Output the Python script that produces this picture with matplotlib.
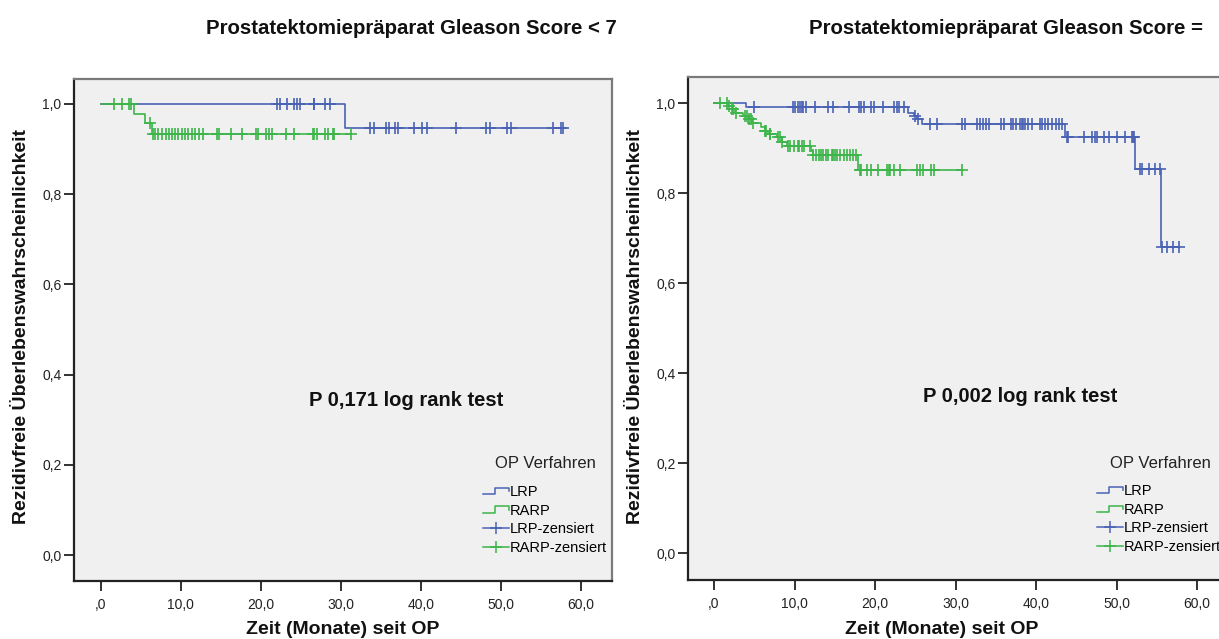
import numpy as np
import matplotlib.pyplot as plt
from matplotlib.lines import Line2D
from matplotlib.legend_handler import HandlerBase
from matplotlib.ticker import FixedLocator, FuncFormatter

plt.rcParams['font.family'] = ['Liberation Sans', 'DejaVu Sans']

W, H = 1219, 639
col_lrp = '#4A62B4'
col_rarp = '#3DB54A'

# --- Gleason Score < 7 ---
lrp1_t = [0, 30.5]
lrp1_s = [1.0, 0.947]
lrp1_cens = [22.0, 22.4, 23.3, 24.2, 24.5, 24.9, 26.6, 26.7, 28.0, 28.7,
             33.7, 34.1, 35.6, 36.0, 36.8, 37.1, 39.1, 40.2, 40.8, 44.4,
             48.2, 48.6, 50.8, 51.3, 56.5, 57.5, 57.8]
rarp1_t = [0, 4.2, 5.5, 6.4]
rarp1_s = [1.0, 0.977, 0.957, 0.933]
rarp1_cens = [1.6, 2.7, 3.5, 3.8, 6.2, 6.5, 6.8, 7.2, 7.6, 8.1, 8.5, 8.9, 9.3,
              9.7, 10.1, 10.5, 10.9, 11.4, 11.8, 12.3, 12.8, 14.5, 14.8, 16.3,
              17.7, 19.4, 19.6, 20.7, 21.0, 21.4, 23.1, 24.2, 26.5, 26.7, 27.0,
              28.0, 28.4, 29.0, 29.2, 31.3]

# --- Gleason Score = 7 ---
lrp2_t = [0, 4.0, 24.1, 24.8, 25.2, 25.8, 43.6, 52.3, 55.5]
lrp2_s = [1.0, 0.992, 0.978, 0.971, 0.964, 0.953, 0.924, 0.853, 0.681]
lrp2_cens = [5.0, 9.8, 10.1, 10.4, 10.7, 10.9, 11.1, 11.4, 12.5, 14.2, 14.8,
             16.8, 18.0, 18.3, 18.6, 19.5, 19.9, 21.0, 22.4, 22.7, 23.0, 23.6,
             25.0, 25.4, 26.8, 27.7, 30.8, 31.2, 32.7, 33.0, 33.4, 33.8, 34.2,
             35.7, 36.0, 36.9, 37.2, 37.5, 38.0, 38.2, 38.4, 38.6, 39.0, 39.5,
             40.5, 40.8, 41.1, 41.5, 42.0, 42.5, 42.8, 43.2, 43.8, 44.0, 46.0,
             47.0, 47.3, 47.6, 48.4, 49.1, 50.0, 51.1, 51.9, 52.1, 52.2, 52.9,
             53.2, 54.0, 54.8, 55.4, 55.7, 56.3, 57.0, 57.7]
rarp2_t = [0, 1.8, 2.2, 2.6, 3.6, 4.3, 4.7, 5.9, 6.3, 6.7, 7.8, 8.4, 9.1,
           12.0, 12.3, 17.9]
rarp2_s = [1.0, 0.993, 0.986, 0.978, 0.971, 0.964, 0.956, 0.947, 0.938, 0.931,
           0.924, 0.914, 0.904, 0.894, 0.884, 0.851]
rarp2_cens = [0.7, 1.6, 1.9, 2.2, 2.4, 2.7, 3.9, 4.1, 4.4, 4.6, 4.9, 6.3, 6.5,
              6.9, 7.0, 8.0, 8.2, 8.5, 9.2, 9.4, 9.9, 10.4, 10.6, 10.9, 11.2,
              11.9, 12.3, 12.7, 13.0, 13.3, 13.6, 13.9, 14.2, 14.6, 14.8, 15.0,
              15.3, 15.7, 16.1, 16.5, 16.9, 17.3, 17.7, 18.1, 18.3, 19.0, 19.5,
              20.4, 21.5, 21.7, 21.9, 22.3, 23.1, 25.2, 25.6, 25.9, 26.9, 27.3,
              30.8]

x_ticks = [0, 10, 20, 30, 40, 50, 60]
y_ticks = [0.0, 0.2, 0.4, 0.6, 0.8, 1.0]


class StepHandler(HandlerBase):
    def create_artists(self, legend, orig_handle, xd, yd, w, h, fontsize, trans):
        xs = np.array([0, 0.45, 0.45, 1.0, 1.0]) * w - xd
        ys = np.array([0.2, 0.2, 0.8, 0.8, 0.45]) * h - yd
        ln = Line2D(xs, ys, color=orig_handle.get_color(),
                    lw=orig_handle.get_linewidth(), transform=trans)
        return [ln]


def km_step(ax, t, s, cens, color):
    t_end = max(max(t), max(cens))
    ax.step(list(t) + [t_end], list(s) + [s[-1]], where='post', color=color, lw=1.2)
    lvl = np.array(s)[np.searchsorted(t, cens, side='right') - 1]
    ax.plot(cens, lvl, ls='none', marker='+', ms=8, mew=1.2, color=color)


def xfmt(v, pos):
    s = f'{v:.1f}'.replace('.', ',')
    return s[1:] if s.startswith('0,') else s


def style_axes(ax):
    ax.set_facecolor('#F0F0F0')
    for side in ['top', 'right']:
        ax.spines[side].set_color('#7A7A7A')
        ax.spines[side].set_linewidth(1.6)
    for side in ['left', 'bottom']:
        ax.spines[side].set_color('#222222')
        ax.spines[side].set_linewidth(1.6)
    ax.xaxis.set_major_locator(FixedLocator(x_ticks))
    ax.yaxis.set_major_locator(FixedLocator(y_ticks))
    ax.xaxis.set_major_formatter(FuncFormatter(xfmt))
    ax.yaxis.set_major_formatter(FuncFormatter(lambda v, p: f'{v:.1f}'.replace('.', ',')))
    ax.tick_params(direction='out', length=7, width=1.3, color='#222222',
                   labelsize=10, labelcolor='#222222')
    ax.tick_params(axis='y', pad=2)
    ax.tick_params(axis='x', pad=5)


def add_legend(ax, x0, y0, title_x, title_y):
    h_lrp = Line2D([], [], color=col_lrp, lw=1.1)
    h_rarp = Line2D([], [], color=col_rarp, lw=1.1)
    h_lrpc = Line2D([], [], color=col_lrp, lw=1.1, marker='+', ms=9, mew=1.1)
    h_rarpc = Line2D([], [], color=col_rarp, lw=1.1, marker='+', ms=9, mew=1.1)
    ax.legend([h_lrp, h_rarp, h_lrpc, h_rarpc],
              ['LRP', 'RARP', 'LRP-zensiert', 'RARP-zensiert'],
              handler_map={h_lrp: StepHandler(), h_rarp: StepHandler()},
              fontsize=10.5, frameon=False, loc='upper left', numpoints=1,
              bbox_to_anchor=(x0 / W, 1 - y0 / H), bbox_transform=fig.transFigure,
              borderpad=0, borderaxespad=0, handlelength=1.8,
              handletextpad=0.05, labelspacing=0.32)
    fig.text(title_x / W, 1 - title_y / H, 'OP Verfahren', ha='center', va='center',
             fontsize=12, color='#222222')


fig = plt.figure(figsize=(W / 100, H / 100), dpi=100)

ax1 = fig.add_axes([74 / W, 1 - 581 / H, 538 / W, 502 / H])
ax2 = fig.add_axes([688 / W, 1 - 580 / H, 538 / W, 503 / H])

km_step(ax1, lrp1_t, lrp1_s, lrp1_cens, col_lrp)
km_step(ax1, rarp1_t, rarp1_s, rarp1_cens, col_rarp)
km_step(ax2, lrp2_t, lrp2_s, lrp2_cens, col_lrp)
km_step(ax2, rarp2_t, rarp2_s, rarp2_cens, col_rarp)

for ax in (ax1, ax2):
    style_axes(ax)
ax1.set_xlim(-3.35, 63.9)
ax1.set_ylim(-0.0576, 1.0554)
ax2.set_xlim(-3.23, 63.6)
ax2.set_ylim(-0.06, 1.0578)

add_legend(ax1, 483, 485, 545, 464)
add_legend(ax2, 1097, 484, 1160, 463)

bold = dict(fontsize=14, fontweight='bold', color='#111111')
fig.text(411 / W, 1 - 28 / H, 'Prostatektomiepräparat Gleason Score < 7',
         ha='center', va='center', fontsize=14.7, fontweight='bold', color='#111111')
fig.text(809 / W, 1 - 28 / H, 'Prostatektomiepräparat Gleason Score =',
         ha='left', va='center', fontsize=14.7, fontweight='bold', color='#111111')

fig.text(406 / W, 1 - 400 / H, 'P 0,171 log rank test', ha='center', va='center',
         fontsize=14.5, fontweight='bold', color='#111111')
fig.text(1020 / W, 1 - 397 / H, 'P 0,002 log rank test', ha='center', va='center',
         fontsize=14.5, fontweight='bold', color='#111111')

fig.text(343 / W, 1 - 630 / H, 'Zeit (Monate) seit OP', ha='center', va='center', **bold)
fig.text(942 / W, 1 - 630 / H, 'Zeit (Monate) seit OP', ha='center', va='center', **bold)
fig.text(22 / W, 1 - 327 / H, 'Rezidivfreie Überlebenswahrscheinlichkeit',
         rotation=90, ha='center', va='center', **bold)
fig.text(636 / W, 1 - 327 / H, 'Rezidivfreie Überlebenswahrscheinlichkeit',
         rotation=90, ha='center', va='center', **bold)

plt.savefig('out.png', dpi=100)
